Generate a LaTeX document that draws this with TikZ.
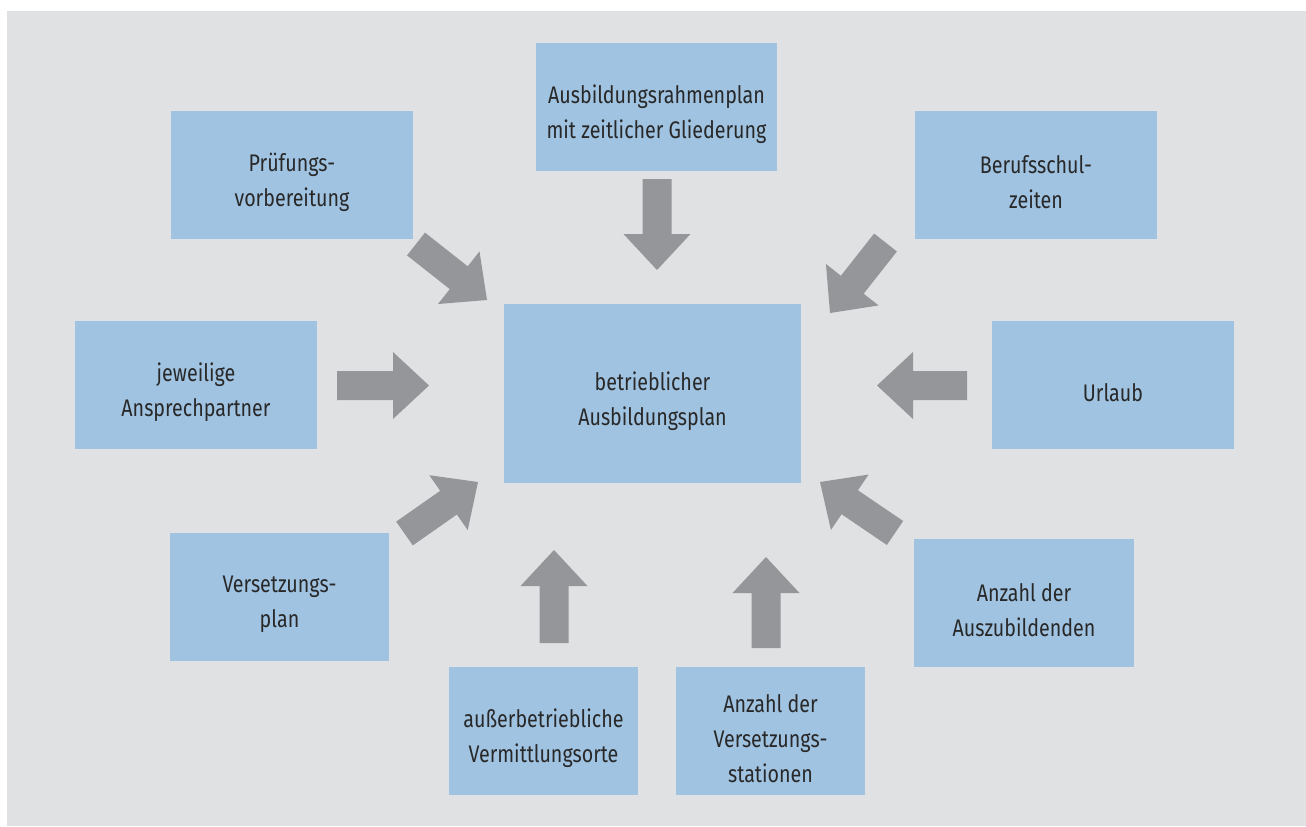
\documentclass[tikz,border=0pt]{standalone}
\usepackage{fontspec}
\setmainfont[FakeStretch=0.82]{Fira Sans}
\usetikzlibrary{calc}

\definecolor{panelgray}{RGB}{224,225,227}
\definecolor{boxblue}{RGB}{160,195,225}
\definecolor{arrowgray}{RGB}{148,150,153}
\definecolor{inkdark}{RGB}{40,40,40}

\tikzset{
  infobox/.style 2 args={fill=boxblue, draw=none, inner sep=0pt,
    minimum width=#1*0.75pt, minimum height=#2*0.75pt},
  boxtext/.style={text=inkdark, align=center, inner sep=0pt,
    font=\fontsize{18}{26.25}\selectfont, yshift=-5.5pt},
}

% broad block arrow from tail (#1) to tip (#2)
\newcommand\blockarrow[2]{%
  \path ($(#2)!27pt!(#1)$) coordinate (hb);
  \fill[arrowgray]
    ($(#1)!10.875pt!90:(#2)$) -- ($(hb)!10.875pt!90:(#2)$) --
    ($(hb)!25.125pt!90:(#2)$) -- (#2) --
    ($(hb)!25.125pt!-90:(#2)$) -- ($(hb)!10.875pt!-90:(#2)$) --
    ($(#1)!10.875pt!-90:(#2)$) -- cycle;}

\begin{document}
\begin{tikzpicture}[x=0.75pt, y=-0.75pt]
  \useasboundingbox (0,0) rectangle (1306,826);
  \fill[panelgray] (7,11) rectangle (1306,826);

  % boxes
  \node[infobox={297}{179}] (plan)    at (652.5,393.5) {};
  \node[infobox={241}{128}] (rahmen)  at (656.5,107) {};
  \node[infobox={242}{128}] (pruef)   at (292,175) {};
  \node[infobox={242}{128}] (beruf)   at (1036,175) {};
  \node[infobox={242}{128}] (ansp)    at (196,385) {};
  \node[infobox={242}{128}] (urlaub)  at (1113,385) {};
  \node[infobox={219}{128}] (verspl)  at (279.5,597) {};
  \node[infobox={220}{128}] (auszub)  at (1024,603) {};
  \node[infobox={189}{128}] (ausserb) at (543.5,731) {};
  \node[infobox={189}{128}] (anzvers) at (770.5,731) {};

  % labels
  \node[boxtext] (tplan)    at (plan)    {betrieblicher\\Ausbildungsplan};
  \node[boxtext] (trahmen)  at (rahmen)  {Ausbildungsrahmenplan\\mit zeitlicher Gliederung};
  \node[boxtext] (tpruef)   at (pruef)   {Prüfungs-\\vorbereitung};
  \node[boxtext] (tberuf)   at (beruf)   {Berufsschul-\\zeiten};
  \node[boxtext] (tansp)    at (ansp)    {jeweilige\\Ansprechpartner};
  \node[boxtext] (turlaub)  at (urlaub)  {Urlaub};
  \node[boxtext] (tverspl)  at (verspl)  {Versetzungs-\\plan};
  \node[boxtext] (tauszub)  at (auszub)  {Anzahl der\\Auszubildenden};
  \node[boxtext] (tausserb) at (ausserb) {außerbetriebliche\\Vermittlungsorte};
  \node[boxtext] (tanzvers) at (anzvers) {Anzahl der\\Versetzungs-\\stationen};

  % arrow ends
  \coordinate (a1) at (657,179);    \coordinate (b1) at (657,270);
  \coordinate (a2) at (337,385.5);  \coordinate (b2) at (429,385.5);
  \coordinate (a3) at (967,385.5);  \coordinate (b3) at (877,385.5);
  \coordinate (a4) at (416,244);    \coordinate (b4) at (487,300);
  \coordinate (a5) at (885.5,242.5);\coordinate (b5) at (830,313);
  \coordinate (a6) at (404.5,533.5);\coordinate (b6) at (478,482);
  \coordinate (a7) at (895,533);    \coordinate (b7) at (820,482);
  \coordinate (a8) at (554,643);    \coordinate (b8) at (554,550);
  \coordinate (a9) at (766,648);    \coordinate (b9) at (766,557);

  \blockarrow{a1}{b1}
  \blockarrow{a2}{b2}
  \blockarrow{a3}{b3}
  \blockarrow{a4}{b4}
  \blockarrow{a5}{b5}
  \blockarrow{a6}{b6}
  \blockarrow{a7}{b7}
  \blockarrow{a8}{b8}
  \blockarrow{a9}{b9}
\end{tikzpicture}
\end{document}
